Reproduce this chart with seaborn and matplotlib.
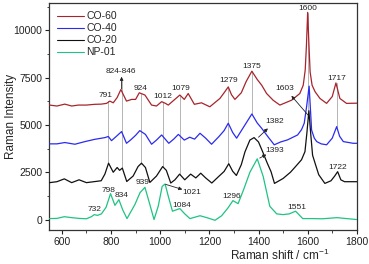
import numpy as np
import pandas as pd
import matplotlib
matplotlib.use("Agg")
import matplotlib.pyplot as plt
import seaborn as sns
from matplotlib.ticker import MultipleLocator

# Spectra (wavenumber in cm^-1, intensity in counts, already offset)
co60_x = [550, 580, 612, 640, 667, 700, 734, 760, 782, 795, 809, 825, 840, 863, 884, 900, 915, 938,
          965, 985, 1006, 1020, 1033, 1055, 1080, 1098, 1114, 1139, 1168, 1202, 1243, 1260, 1277, 1290,
          1304, 1330, 1350, 1373, 1395, 1413, 1433, 1460, 1487, 1535, 1568, 1582, 1590, 1595, 1600, 1605,
          1610, 1618, 1630, 1650, 1677, 1700, 1715, 1731, 1758, 1800]
co60_y = [6050, 6000, 6100, 6000, 6050, 6050, 6090, 6100, 6140, 6260, 6170, 6450, 6870, 6260, 6350, 6350,
          6700, 6580, 6050, 6000, 6230, 6150, 6050, 6300, 6580, 6350, 6660, 6090, 6170, 5960, 6400, 6700,
          7010, 6600, 6350, 6700, 7300, 7840, 7400, 7100, 6660, 6300, 6050, 6310, 6660, 7100, 7900, 9200,
          10950, 9300, 7800, 7100, 6760, 6400, 6140, 6500, 7220, 6400, 6140, 6150]

co40_x = [550, 580, 612, 653, 694, 734, 775, 789, 802, 822, 843, 863, 880, 900, 917, 940, 965, 985, 1006,
          1035, 1055, 1074, 1098, 1120, 1140, 1162, 1185, 1209, 1240, 1260, 1277, 1295, 1311, 1340, 1373,
          1395, 1413, 1440, 1464, 1490, 1518, 1559, 1575, 1586, 1596, 1606, 1616, 1627, 1637, 1655, 1677,
          1700, 1718, 1730, 1745, 1785, 1800]
co40_y = [4000, 4000, 4070, 3980, 4120, 4240, 4330, 4390, 4170, 4400, 4650, 4030, 4210, 4450, 4700, 4500,
          3980, 4200, 4470, 4030, 4250, 4500, 4200, 4350, 4250, 4560, 4300, 3980, 4400, 4700, 5090, 4600,
          4300, 4900, 5580, 5100, 4820, 4350, 3950, 4100, 4210, 4470, 4750, 5090, 6000, 7050, 4730, 4300,
          4120, 4000, 3950, 4300, 4910, 4400, 4120, 4030, 4030]

co20_x = [550, 580, 610, 640, 670, 700, 730, 760, 775, 790, 809, 825, 835, 846, 864, 890, 910, 924, 940,
          958, 985, 1010, 1025, 1043, 1060, 1079, 1100, 1124, 1145, 1165, 1185, 1210, 1240, 1260, 1279,
          1295, 1310, 1330, 1345, 1365, 1382, 1400, 1417, 1435, 1451, 1465, 1500, 1530, 1550, 1575, 1589,
          1597, 1605, 1612, 1620, 1632, 1645, 1670, 1695, 1710, 1722, 1735, 1750, 1800]
co20_y = [1950, 2000, 2150, 1950, 2100, 1950, 2000, 2050, 2400, 2980, 2500, 2750, 2600, 2720, 2010, 2300,
          2800, 2980, 2750, 1960, 2300, 2800, 2600, 1930, 2100, 2400, 2100, 2400, 2200, 2450, 2200, 1930,
          2300, 2540, 2950, 2550, 2330, 2900, 3580, 4200, 4330, 4100, 3580, 3000, 2530, 1910, 2170, 2500,
          2790, 3160, 3590, 4600, 5750, 4600, 3400, 2900, 2370, 1910, 2050, 2300, 2530, 2100, 2000, 2000]

np01_x = [550, 580, 610, 640, 670, 700, 720, 732, 745, 761, 780, 798, 816, 832, 848, 865, 897, 918, 938,
          958, 975, 992, 1008, 1020, 1033, 1050, 1080, 1100, 1121, 1162, 1190, 1223, 1250, 1275, 1296,
          1317, 1340, 1365, 1395, 1419, 1446, 1474, 1500, 1525, 1551, 1580, 1620, 1660, 1700, 1720,
          1750, 1800]
np01_y = [50, 60, 150, 100, 60, 40, 150, 260, 220, 300, 650, 1370, 750, 1050, 500, 50, 790, 1420, 1700,
          790, 0, 700, 1750, 1880, 1230, 440, 580, 300, 50, 200, 100, -40, 200, 600, 1000, 840, 1600,
          2500, 3210, 2280, 700, 300, 260, 300, 440, 50, 50, 40, 80, 100, 60, 0]

series_names = ["CO-60", "CO-40", "CO-20", "NP-01"]
series_colors = ["#a8242c", "#2b2bf0", "#111111", "#1fc383"]

# Grey guide lines at shared peaks: position, bottom, top
guide_pos = [789, 843, 924, 1010, 1079, 1277, 1374, 1603, 1718]
guide_lo = [2980, 2700, 2950, 2800, 2400, 2950, 5580, 5600, 4910]
guide_hi = [6250, 7450, 6650, 6220, 6550, 7010, 7840, 10900, 7220]

# Plain peak labels: text, x, y
label_txt = ["791", "924", "1012", "1079", "1279", "1375", "1717", "1600",
             "1722", "939", "798", "834", "732", "1084", "1296", "1551"]
label_x = [776, 921, 1012, 1084, 1277, 1373, 1718, 1600,
           1722, 927, 789, 843, 732, 1087, 1291, 1555]
label_y = [6550, 6930, 6520, 6930, 7330, 8100, 7450, 11130,
           2740, 1960, 1540, 1260, 530, 740, 1230, 620]

# Labels with arrows: text, text position, arrow start
arrow_txt = ["824-846", "1603", "1382", "1393", "1021"]
arrow_tx = [839, 1508, 1467, 1467, 1128]
arrow_ty = [7800, 6930, 5170, 3670, 1440]
arrow_sx = [843, 1603, 1400, 1405, 1022]
arrow_sy = [6900, 5500, 4350, 3250, 1860]

frames = []
for name, xs, ys in zip(series_names, [co60_x, co40_x, co20_x, np01_x], [co60_y, co40_y, co20_y, np01_y]):
    frames.append(pd.DataFrame({"shift": xs, "intensity": ys, "sample": name}))
df = pd.concat(frames, ignore_index=True)

sns.set_style("ticks")
plt.rcParams["font.family"] = ["Liberation Sans", "DejaVu Sans"]
plt.rcParams["mathtext.fontset"] = "custom"
plt.rcParams["mathtext.rm"] = "Liberation Sans"

fig = plt.figure(figsize=(3.69, 2.64), dpi=100)
ax = fig.add_axes([0.133, 0.129, 0.834, 0.86])

for x0, lo, hi in zip(guide_pos, guide_lo, guide_hi):
    ax.plot([x0, x0], [lo, hi], color="#a8a8a8", lw=0.6, zorder=1)

sns.lineplot(data=df, x="shift", y="intensity", hue="sample", palette=series_colors,
             hue_order=series_names, estimator=None, sort=True, lw=0.9, ax=ax, zorder=3)

for t, x0, y0 in zip(label_txt, label_x, label_y):
    ax.text(x0, y0, t, fontsize=6, ha="center", va="center", color="#222222", zorder=5)

for t, tx, ty, sx, sy in zip(arrow_txt, arrow_tx, arrow_ty, arrow_sx, arrow_sy):
    ax.annotate("", xy=(tx if t != "824-846" else sx, ty - 250 if t == "824-846" else ty),
                xytext=(sx, sy),
                arrowprops=dict(arrowstyle="-|>", color="#222222", lw=0.6,
                                mutation_scale=5, shrinkA=0, shrinkB=7 if t != "824-846" else 0),
                zorder=4)
    ax.text(tx, ty, t, fontsize=6, ha="center", va="center", color="#222222", zorder=5)

ax.set_xlim(548, 1800)
ax.set_ylim(-550, 11450)
ax.xaxis.set_major_locator(MultipleLocator(200))
ax.xaxis.set_minor_locator(MultipleLocator(100))
ax.yaxis.set_major_locator(MultipleLocator(2500))
ax.yaxis.set_minor_locator(MultipleLocator(1250))
ax.tick_params(which="major", direction="out", length=3, width=0.8, labelsize=7.5, pad=2,
               colors="#222222")
ax.tick_params(which="minor", direction="out", length=1.8, width=0.6)
for sp in ax.spines.values():
    sp.set_visible(True)
    sp.set_linewidth(0.9)
    sp.set_color("#333333")

ax.set_xlabel("Raman shift / cm$^{\\mathregular{-1}}$", fontsize=8.5)
ax.xaxis.set_label_coords(0.75, -0.08)
ax.set_ylabel("Raman Intensity", fontsize=8.5)
ax.yaxis.set_label_coords(-0.105, 0.5)

leg = ax.legend(loc="upper left", frameon=False, fontsize=7.5, handlelength=2.6,
                handletextpad=0.2, labelspacing=0.2, borderaxespad=0.4)
for h in leg.get_lines():
    h.set_linewidth(0.8)

fig.savefig("out.png", dpi=100)
